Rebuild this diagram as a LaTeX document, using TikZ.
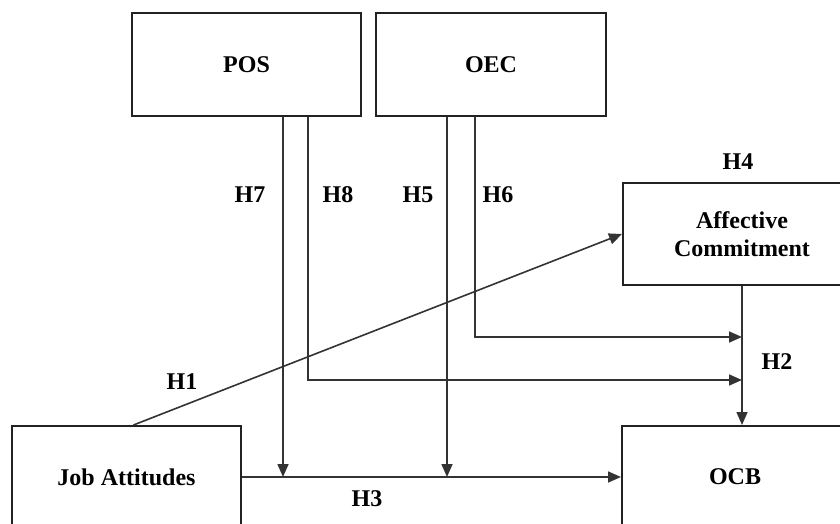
\documentclass[tikz,border=0pt]{standalone}
\usepackage{fontspec}
\setmainfont{Liberation Serif}
\usepackage{xcolor}
\usepackage{tikz}
\usetikzlibrary{positioning, arrows.meta, calc}
\definecolor{boxline}{HTML}{222222}
\definecolor{arrowline}{HTML}{333333}
\tikzset{
  varbox/.style={draw=boxline, line width=1pt, fill=white, align=center,
        font=\fontsize{12}{14}\selectfont\bfseries},
  hyplabel/.style={font=\fontsize{12}{14}\selectfont\bfseries, inner sep=1pt},
  path/.style={draw=arrowline, line width=0.8pt,
        -{Triangle[length=6.5pt, width=5.5pt]}}
}

\begin{document}
\begin{tikzpicture}[x=0.5pt, y=-0.5pt]
  \useasboundingbox (0,0) rectangle (840,524);
  \node[varbox, minimum width=114.5pt, minimum height=51.5pt] (pos) at (246.5,64.5) {POS};
  \node[varbox, minimum width=115pt, minimum height=51.5pt] (oec) at (491,64.5) {OEC};
  \node[varbox, minimum width=119pt, minimum height=51pt] (ac) at (742,234) {Affective\\Commitment};
  \node[varbox, minimum width=114.5pt, minimum height=51pt] (ja) at (126.5,477) {Job Attitudes};
  \node[varbox, minimum width=113pt, minimum height=51pt] (ocb) at (735,477) {OCB};

  \coordinate (m7) at (283,477);
  \coordinate (m5) at (447,477);
  \coordinate (k8) at (308,380);
  \coordinate (k6) at (475,337);

  \draw[path] (ja.east) -- (ocb.west);
  \draw[path] ([xshift=3.5pt]ja.north) -- (ac.west);
  \draw[path] (ac.south) -- (ac.south |- ocb.north);
  \draw[path] (pos.south -| m7) -- (m7);
  \draw[path] (oec.south -| m5) -- (m5);
  \draw[path] (pos.south -| k8) |- (ac.south |- k8);
  \draw[path] (oec.south -| k6) |- (ac.south |- k6);

  \node[hyplabel] (h1) at (182,382) {H1};
  \node[hyplabel] (h2) at (777,362) {H2};
  \node[hyplabel] (h3) at (367,499) {H3};
  \node[hyplabel] (h4) at (738,162) {H4};
  \node[hyplabel] (h5) at (418,195) {H5};
  \node[hyplabel] (h6) at (498,195) {H6};
  \node[hyplabel] (h7) at (250,195) {H7};
  \node[hyplabel] (h8) at (338,195) {H8};
\end{tikzpicture}
\end{document}
